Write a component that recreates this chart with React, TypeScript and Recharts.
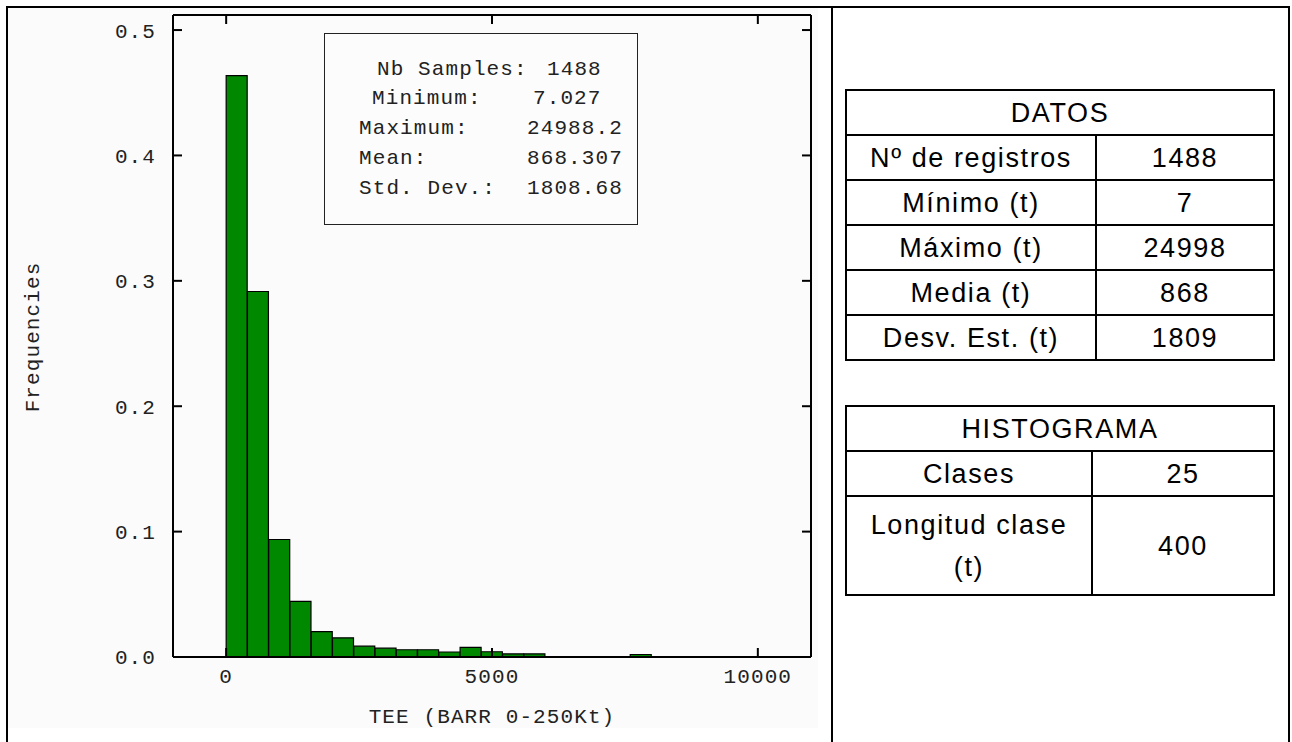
import React from 'react';
import { BarChart, Bar, XAxis, YAxis, ReferenceLine } from 'recharts';

// histogram bins (class width 400 t), centre of each class
const binCenters = [
  200, 600, 1000, 1400, 1800, 2200, 2600, 3000, 3400, 3800, 4200, 4600, 5000,
  5400, 5800, 6200, 6600, 7000, 7400, 7800, 8200, 8600, 9000, 9400, 9800,
];
const frequencies = [
  0.4637, 0.2915, 0.0937, 0.0443, 0.0203, 0.0153, 0.0086, 0.007, 0.0058, 0.0058,
  0.004, 0.0077, 0.0042, 0.0025, 0.0025, 0, 0, 0, 0, 0.002, 0, 0, 0, 0, 0,
];
const xTicks = [0, 5000, 10000];
const yTicks = [0, 0.1, 0.2, 0.3, 0.4, 0.5];
const xDomain = [-1000, 11000];
const yDomain = [0, 0.512];

const statLabels = ['Nb Samples:', 'Minimum:', 'Maximum:', 'Mean:', 'Std. Dev.:'];
const statValues = ['1488', '7.027', '24988.2', '868.307', '1808.68'];

const datosTitle = 'DATOS';
const datosLabels = ['Nº de registros', 'Mínimo (t)', 'Máximo (t)', 'Media (t)', 'Desv. Est. (t)'];
const datosValues = ['1488', '7', '24998', '868', '1809'];

const histTitle = 'HISTOGRAMA';
const histLabels = ['Clases', 'Longitud clase\n(t)'];
const histValues = ['25', '400'];

const histogram = binCenters.map((x, i) => ({ x, freq: frequencies[i] }));

const mono = '"Liberation Mono", "DejaVu Sans Mono", monospace';
const sans = '"Liberation Sans", Arial, sans-serif';
const frameLine = { stroke: '#000', strokeWidth: 2 };
const tickText = { fill: '#222', fontSize: 21, fontFamily: mono, letterSpacing: 1.1 };
const noLabel = () => '';

const CHART_W = 830;
const CHART_H = 742;
const chartMargin = { top: 15, right: 19, bottom: 5, left: 0 };
const X_AXIS_H = 80;
const Y_AXIS_W = 173;
const X_LABEL_GAP = 11;
const Y_LABEL_GAP = 17;
const TICK_LEN = 9;
// plot area is 638 x 642 px; tick length expressed in data units
const tickLenX = (TICK_LEN * (xDomain[1] - xDomain[0])) / 638;
const tickLenY = (TICK_LEN * (yDomain[1] - yDomain[0])) / 642;

const BottomTick = (props: any) => {
  const { x, y, payload } = props;
  return (
    <text x={x} y={y} dy="0.71em" textAnchor="middle" {...tickText}>
      {payload.value}
    </text>
  );
};

const LeftTick = (props: any) => {
  const { x, y, payload } = props;
  return (
    <text x={x} y={y} dy="0.355em" textAnchor="end" {...tickText}>
      {Number(payload.value).toFixed(1)}
    </text>
  );
};

// layout of the stats box rows
const statLabelLeft = [52, 47, 34, 34, 34];
const statValueLeft = [222, 208, 202, 202, 202];

const cellBase: React.CSSProperties = {
  border: '2px solid #000',
  padding: 0,
  textAlign: 'center',
  verticalAlign: 'middle',
  lineHeight: '30px',
};

const InfoTable: React.FC<{
  title: string;
  labels: string[];
  values: string[];
  left: number;
  top: number;
  colWidths: [number, number];
  rowHeights: number[];
}> = ({ title, labels, values, left, top, colWidths, rowHeights }) => (
  <table
    style={{
      position: 'absolute',
      left,
      top,
      borderCollapse: 'collapse',
      fontFamily: sans,
      fontSize: 27,
      letterSpacing: 1.6,
      color: '#000',
    }}
  >
    <tbody>
      <tr>
        <td colSpan={2} style={{ ...cellBase, height: 43 }}>
          {title}
        </td>
      </tr>
      {labels.map((label, i) => (
        <tr key={label}>
          <td style={{ ...cellBase, width: colWidths[0], height: rowHeights[i] }}>
            <div style={{ whiteSpace: 'pre-line', lineHeight: label.includes('\n') ? '42px' : '30px' }}>
              {label}
            </div>
          </td>
          <td style={{ ...cellBase, width: colWidths[1], height: rowHeights[i] }}>{values[i]}</td>
        </tr>
      ))}
    </tbody>
  </table>
);

// inward tick marks on the left, bottom and top edges, laid over the histogram
const TickOverlay = () => (
  <BarChart width={CHART_W} height={CHART_H} data={histogram} margin={chartMargin}>
    <XAxis
      xAxisId="xb"
      dataKey="x"
      type="number"
      domain={xDomain}
      allowDataOverflow
      ticks={xTicks}
      height={X_AXIS_H}
      axisLine={false}
      tickLine={false}
      tick={false}
    />
    <YAxis
      yAxisId="yl"
      type="number"
      domain={yDomain}
      allowDataOverflow
      ticks={yTicks}
      width={Y_AXIS_W}
      axisLine={false}
      tickLine={false}
      tick={false}
    />
    {yTicks.map((t) => (
      <ReferenceLine
        key={`l${t}`}
        xAxisId="xb"
        yAxisId="yl"
        segment={[
          { x: xDomain[0], y: t },
          { x: xDomain[0] + tickLenX, y: t },
        ]}
        stroke="#000"
        strokeWidth={2}
        ifOverflow="visible"
      />
    ))}
    {xTicks.map((t) => (
      <ReferenceLine
        key={`b${t}`}
        xAxisId="xb"
        yAxisId="yl"
        segment={[
          { x: t, y: yDomain[0] },
          { x: t, y: yDomain[0] + tickLenY },
        ]}
        stroke="#000"
        strokeWidth={2}
        ifOverflow="visible"
      />
    ))}
    {xTicks.map((t) => (
      <ReferenceLine
        key={`t${t}`}
        xAxisId="xb"
        yAxisId="yl"
        segment={[
          { x: t, y: yDomain[1] },
          { x: t, y: yDomain[1] - tickLenY },
        ]}
        stroke="#000"
        strokeWidth={2}
        ifOverflow="visible"
      />
    ))}
  </BarChart>
);

export default function App() {
  return (
    <div
      style={{
        position: 'absolute',
        left: 0,
        top: 0,
        width: 1292,
        height: 742,
        overflow: 'hidden',
        background: '#fff',
      }}
    >
      {/* outer frame and column divider */}
      <div
        style={{
          position: 'absolute',
          left: 6,
          top: 6,
          width: 1284,
          height: 780,
          border: '2px solid #000',
          boxSizing: 'border-box',
        }}
      />
      <div style={{ position: 'absolute', left: 831, top: 6, width: 2, height: 780, background: '#000' }} />
      <div style={{ position: 'absolute', left: 8, top: 8, width: 810, height: 720, background: '#fbfbfb' }} />

      <div style={{ position: 'absolute', left: 0, top: 0 }}>
        <BarChart
          width={CHART_W}
          height={CHART_H}
          data={histogram}
          margin={chartMargin}
          barCategoryGap={0}
          barGap={0}
        >
          <Bar
            xAxisId="bottom"
            yAxisId="left"
            dataKey="freq"
            fill="#008800"
            stroke="#000"
            strokeWidth={1.2}
            isAnimationActive={false}
          />
          <XAxis
            xAxisId="bottom"
            dataKey="x"
            type="number"
            domain={xDomain}
            allowDataOverflow
            ticks={xTicks}
            interval={0}
            height={X_AXIS_H}
            axisLine={frameLine}
            tickLine={false}
            tickSize={0}
            tickMargin={X_LABEL_GAP}
            tick={BottomTick}
            label={{
              value: 'TEE (BARR 0-250Kt)',
              position: 'insideBottom',
              offset: 14,
              fill: '#222',
              fontSize: 21,
              fontFamily: mono,
              letterSpacing: 1.1,
            }}
          />
          <YAxis
            yAxisId="left"
            type="number"
            domain={yDomain}
            allowDataOverflow
            ticks={yTicks}
            interval={0}
            width={Y_AXIS_W}
            axisLine={frameLine}
            tickLine={false}
            tickSize={0}
            tickMargin={Y_LABEL_GAP}
            tick={LeftTick}
          />
          {/* top and right edges of the frame */}
          <XAxis
            xAxisId="top"
            orientation="top"
            mirror
            height={1}
            dataKey="x"
            type="number"
            domain={xDomain}
            allowDataOverflow
            ticks={xTicks}
            interval={0}
            axisLine={frameLine}
            tickLine={false}
            tickFormatter={noLabel}
          />
          <YAxis
            yAxisId="right"
            orientation="right"
            mirror
            width={1}
            type="number"
            domain={yDomain}
            allowDataOverflow
            ticks={yTicks}
            interval={0}
            axisLine={frameLine}
            tickLine={frameLine}
            tickSize={TICK_LEN}
            tickFormatter={noLabel}
          />
        </BarChart>
      </div>

      <div style={{ position: 'absolute', left: 0, top: 0, pointerEvents: 'none' }}>
        <TickOverlay />
      </div>

      {/* y axis title */}
      <div
        style={{
          position: 'absolute',
          left: 33,
          top: 337,
          transform: 'translate(-50%, -50%) rotate(-90deg)',
          whiteSpace: 'nowrap',
          fontFamily: mono,
          fontSize: 21,
          letterSpacing: 1.1,
          color: '#222',
        }}
      >
        Frequencies
      </div>

      {/* summary statistics box */}
      <div
        style={{
          position: 'absolute',
          left: 324,
          top: 33,
          width: 314,
          height: 192,
          boxSizing: 'border-box',
          border: '1.5px solid #222',
          background: '#fcfcfc',
          fontFamily: mono,
          fontSize: 21,
          letterSpacing: 1.1,
          color: '#222',
        }}
      >
        {statLabels.map((label, i) => (
          <React.Fragment key={label}>
            <span
              style={{ position: 'absolute', left: statLabelLeft[i], top: 23.5 + i * 29.8, lineHeight: '24px', whiteSpace: 'pre' }}
            >
              {label}
            </span>
            <span
              style={{ position: 'absolute', left: statValueLeft[i], top: 23.5 + i * 29.8, lineHeight: '24px', whiteSpace: 'pre' }}
            >
              {statValues[i]}
            </span>
          </React.Fragment>
        ))}
      </div>

      <InfoTable
        title={datosTitle}
        labels={datosLabels}
        values={datosValues}
        left={845}
        top={89}
        colWidths={[248, 176]}
        rowHeights={[43, 43, 43, 43, 43]}
      />
      <InfoTable
        title={histTitle}
        labels={histLabels}
        values={histValues}
        left={845}
        top={405}
        colWidths={[244, 180]}
        rowHeights={[43, 97]}
      />
    </div>
  );
}
